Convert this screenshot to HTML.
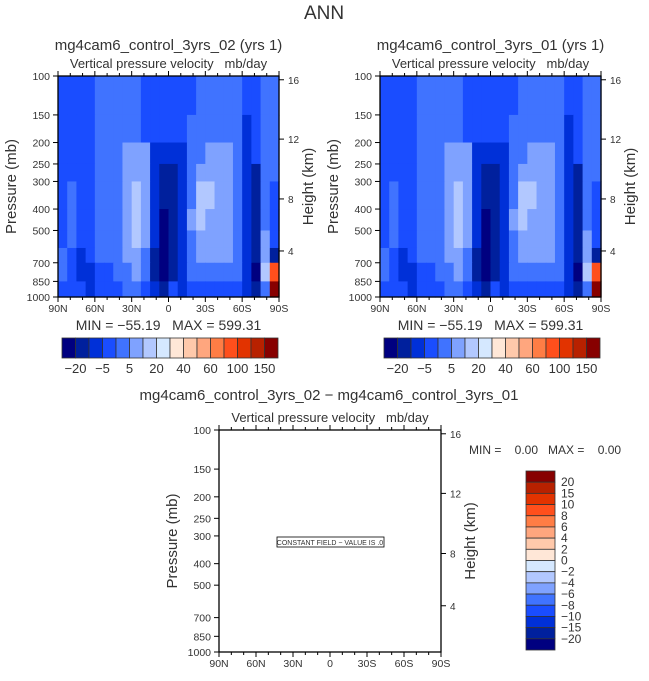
<!DOCTYPE html>
<html><head><meta charset="utf-8"><style>
body{margin:0;background:#fff;width:649px;height:676px;overflow:hidden}
svg text{font-family:"Liberation Sans",sans-serif;fill:#333;white-space:pre}
</style></head><body>
<svg id="s" width="649" height="676" xmlns="http://www.w3.org/2000/svg"></svg>
<script>
const levels=[-20,-10,-5,0,5,10,20,30,40,50,60,80,100,120,150];
const levelLabels=["-20","-5","5","20","40","60","100","150"];
const diffLabels=["20","15","10","8","6","4","2","0","\u22122","\u22124","\u22126","\u22128","\u221210","\u221215","\u221220"];
const colors=["#000080","#00209d","#0030d8","#1a4dff","#4073ff","#7fa2ff","#b2c8ff","#d5e8ff","#ffe7d7","#ffc9ab","#ffa67e","#ff7d45","#ff4f1c","#e23300","#b82100","#870000"];
const pEdges=[100,150,200,250,300,400,500,600,700,850,1000];
const pTicks=[100,150,200,250,300,400,500,700,850,1000];
const hTicks=[16,12,8,4];
const hPress=[104,193,360,619];
const latLabels=["90N","60N","30N","0","30S","60S","90S"];
const binVal=[-30,-15,-7,-2,2,7,15,25,35,45,55,70,90,110,130,200];
const bins=[
[3,3,3,3,4,4,4,4,4,3,3,3,3,3,3,4,4,4,4,4,3,3,4,4],
[3,3,3,3,4,4,4,4,4,3,3,3,3,3,4,4,4,4,4,4,2,3,4,4],
[3,3,3,3,4,4,4,5,5,5,2,2,2,2,4,4,5,5,5,4,2,3,4,4],
[3,3,3,3,4,4,4,5,5,5,2,1,1,2,4,5,5,5,5,4,2,1,4,4],
[3,4,3,3,4,4,4,5,6,5,2,1,1,2,4,6,6,5,5,4,2,1,4,3],
[3,4,3,3,4,4,4,5,6,5,2,0,1,2,5,6,5,5,5,4,2,1,4,3],
[3,4,3,3,4,4,4,5,6,5,2,0,1,2,4,5,5,5,5,4,2,1,5,3],
[4,3,2,3,4,4,4,5,5,4,1,0,1,2,4,5,5,5,5,4,2,1,5,1],
[4,3,2,2,3,3,4,4,5,4,1,0,1,2,4,4,4,4,4,4,2,0,6,12],
[3,3,3,2,3,3,3,4,4,3,2,1,3,2,3,3,3,3,3,3,2,1,4,15]];
const field=bins.map(r=>r.map(b=>binVal[b]));
const S=document.getElementById('s');const NS='http://www.w3.org/2000/svg';
function el(t,a,txt){const e=document.createElementNS(NS,t);for(const k in a)e.setAttribute(k,a[k]);if(txt!==undefined)e.textContent=txt;S.appendChild(e);return e;}
function colorOf(v){let i=0;while(i<levels.length&&v>=levels[i])i++;return colors[i];}
function txt(x,y,s,size,name,anchor,extra){const e=el('text',Object.assign({x:x,y:y,'font-size':size,'text-anchor':anchor||'middle'},extra||{}),s);

return e;}
function panel(L,T,W,H,filled,title,pref){
 const yP=p=>T+Math.log10(p/100)*H; const xL=i=>L+i*W/24;
 if(title)txt(L+W/2,T-26,title,15,pref+'-title');
 txt(L+W/2,T-8,'Vertical pressure velocity   mb/day',13,pref+'-subtitle');
 if(filled){for(let r=0;r<field.length;r++)for(let c=0;c<24;c++){const y0=yP(pEdges[r]),y1=yP(pEdges[r+1]);
  const e=el('rect',{x:xL(c),y:y0,width:W/24+0.6,height:y1-y0+0.6,fill:colorOf(field[r][c])});
  
  }}
 const f=el('rect',{x:L,y:T,width:W,height:H,fill:'none',stroke:'#000','stroke-width':1.3});
 
 pTicks.forEach(p=>{const y=yP(p);el('line',{x1:L-5,x2:L,y1:y,y2:y,stroke:'#000'});txt(L-8,y+4,String(p),10.5,pref+'-y-tick-label','end');});
 hTicks.forEach((h,i)=>{const y=yP(hPress[i]);el('line',{x1:L+W,x2:L+W+5,y1:y,y2:y,stroke:'#000'});txt(L+W+9,y+4,String(h),10,pref+'-height-tick-label','start');});
 for(let i=0;i<=18;i++){const x=L+i*W/18,len=i%3==0?5:3;el('line',{x1:x,x2:x,y1:T+H,y2:T+H+len,stroke:'#000'});el('line',{x1:x,x2:x,y1:T,y2:T-len,stroke:'#000'});}
 latLabels.forEach((s,i)=>txt(L+i*W/6,T+H+15,s,10.5,pref+'-x-tick-label'));
 txt(0,0,'Pressure (mb)',15,pref+'-y-axis-title','middle',{transform:`translate(${L-42},${T+H/2}) rotate(-90)`,fill:'#555'});
 txt(0,0,'Height (km)',15,pref+'-right-axis-title','middle',{transform:`translate(${L+W+34},${T+H/2}) rotate(-90)`,fill:'#555'});
}
txt(324,19,'ANN',19,'figure-title','middle',{fill:'#555'});
const pW=221,pH=221;
[[58,'mg4cam6_control_3yrs_02 (yrs 1)','left'],[380,'mg4cam6_control_3yrs_01 (yrs 1)','right']].forEach(([L,t,p])=>{
 panel(L,76,pW,pH,true,t,p);
 txt(L+pW/2,330,'MIN = \u221255.19   MAX = 599.31',14,p+'-min-max');
 const cx=L+4,cw=(pW-5)/16;
 colors.forEach((c,i)=>{const e=el('rect',{x:cx+i*cw,y:338,width:cw,height:20,fill:c,stroke:'#333','stroke-width':0.8});
 });
 levelLabels.forEach((s,i)=>txt(cx+(2*i+1)*cw,373,s.replace('-','\u2212'),13,p+'-colorbar-label'));
});
txt(329,400,'mg4cam6_control_3yrs_02 \u2212 mg4cam6_control_3yrs_01',15,'diff-title');
panel(219,430,222,222,false,'','diff');
const cb=el('rect',{x:277,y:537,width:107,height:10,fill:'#fff',stroke:'#000','stroke-width':0.8});

txt(330,545,'CONSTANT FIELD \u2212 VALUE IS .0',7,'constant-field-label');
txt(469,454,'MIN =    0.00   MAX =    0.00',12,'diff-min-max','start');
const vh=(650-471)/16;
colors.slice().reverse().forEach((c,i)=>{const e=el('rect',{x:526,y:471+i*vh,width:29,height:vh,fill:c,stroke:'#333','stroke-width':0.8});
});
diffLabels.forEach((s,i)=>txt(561,471+(i+1)*vh+4,s,12,'diff-colorbar-label','start'));
</script></body></html>
